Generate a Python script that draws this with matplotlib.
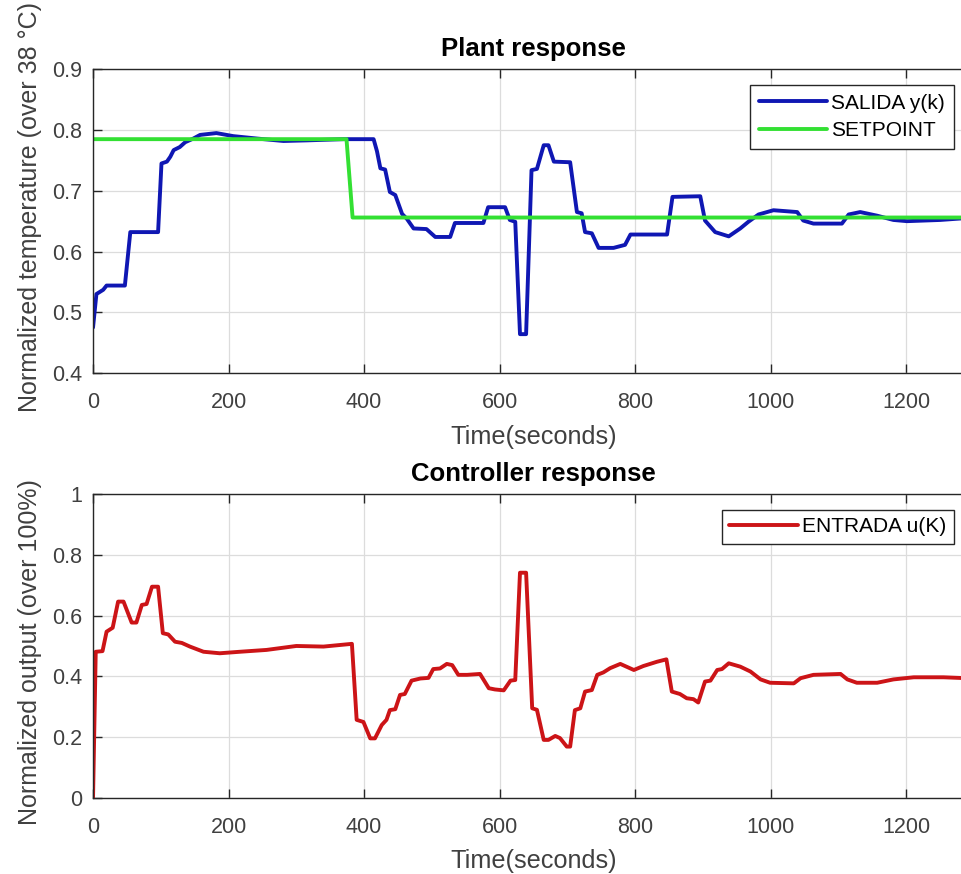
import matplotlib
matplotlib.use("Agg")
import matplotlib.pyplot as plt

# plant output y(k)
salida_t = [0, 5, 15, 20, 47, 55, 96, 101, 109, 114, 119, 128, 136, 148, 158, 182, 207, 242,
            281, 315, 370, 414, 419, 424, 431, 438, 446, 456, 463, 473, 492, 505, 527, 534,
            576, 583, 608, 615, 623, 630, 639, 647, 655, 665, 672, 680, 704, 714, 721, 726,
            736, 746, 768, 785, 793, 847, 855, 896, 903, 918, 938, 955, 967, 982, 1004, 1039,
            1048, 1063, 1105, 1115, 1132, 1157, 1181, 1201, 1250, 1300]
salida_y = [0.475, 0.53, 0.537, 0.544, 0.544, 0.632, 0.632, 0.745, 0.748, 0.756, 0.767, 0.772,
            0.78, 0.786, 0.792, 0.795, 0.79, 0.786, 0.782, 0.783, 0.785, 0.785, 0.765, 0.737,
            0.735, 0.698, 0.693, 0.662, 0.654, 0.638, 0.637, 0.624, 0.624, 0.647, 0.647, 0.673,
            0.673, 0.652, 0.649, 0.464, 0.464, 0.734, 0.736, 0.775, 0.775, 0.748, 0.747, 0.665,
            0.663, 0.632, 0.63, 0.606, 0.606, 0.611, 0.628, 0.628, 0.69, 0.691, 0.651, 0.632,
            0.625, 0.638, 0.649, 0.661, 0.668, 0.665, 0.651, 0.646, 0.646, 0.661, 0.665, 0.659,
            0.652, 0.65, 0.652, 0.656]

# setpoint
setpoint_t = [0, 374, 383, 1300]
setpoint_y = [0.785, 0.785, 0.656, 0.656]

# controller output u(k)
entrada_t = [0, 4, 14, 20, 29, 37, 45, 57, 64, 72, 79, 87, 96, 103, 111, 121, 131, 143, 163,
             187, 217, 256, 300, 340, 382, 389, 399, 409, 416, 426, 433, 438, 446, 453, 460,
             470, 483, 495, 502, 512, 522, 530, 539, 552, 571, 584, 593, 606, 616, 623, 630,
             639, 648, 655, 665, 672, 682, 689, 699, 704, 711, 719, 726, 736, 744, 753, 763,
             778, 798, 812, 832, 846, 854, 866, 876, 886, 893, 903, 911, 921, 928, 938, 955,
             970, 985, 999, 1034, 1044, 1063, 1103, 1113, 1127, 1157, 1181, 1211, 1255, 1300]
entrada_y = [0.0, 0.481, 0.483, 0.547, 0.56, 0.646, 0.646, 0.577, 0.577, 0.635, 0.638, 0.695,
             0.695, 0.542, 0.538, 0.514, 0.51, 0.498, 0.481, 0.476, 0.481, 0.487, 0.5, 0.498,
             0.507, 0.257, 0.25, 0.196, 0.196, 0.24, 0.257, 0.289, 0.292, 0.339, 0.342, 0.386,
             0.393, 0.395, 0.424, 0.426, 0.441, 0.437, 0.405, 0.405, 0.408, 0.361, 0.357, 0.354,
             0.386, 0.388, 0.741, 0.741, 0.295, 0.29, 0.191, 0.191, 0.204, 0.197, 0.169, 0.169,
             0.289, 0.295, 0.35, 0.355, 0.405, 0.413, 0.427, 0.441, 0.421, 0.434, 0.448, 0.456,
             0.35, 0.342, 0.328, 0.325, 0.314, 0.383, 0.386, 0.421, 0.424, 0.443, 0.432, 0.416,
             0.39, 0.379, 0.377, 0.394, 0.405, 0.408, 0.39, 0.379, 0.379, 0.39, 0.397, 0.397,
             0.393]

x_ticks = [0, 200, 400, 600, 800, 1000, 1200]
top_yticks = [0.4, 0.5, 0.6, 0.7, 0.8, 0.9]
bot_yticks = [0, 0.2, 0.4, 0.6, 0.8, 1]
bot_ylabels = ["0", "0.2", "0.4", "0.6", "0.8", "1"]

plt.rcParams['font.family'] = ['Liberation Sans', 'DejaVu Sans']

AX_COL = "#262626"
TXT_COL = "#404040"
LINE_KW = dict(linewidth=2.8, solid_joinstyle="round", solid_capstyle="round")


# matlab-ish look for one axes
def style_axes(ax, yticks):
    ax.set_xlim(0, 1300)
    ax.set_xticks(x_ticks)
    ax.set_yticks(yticks)
    ax.grid(True, color="#dcdcdc", linewidth=0.9)
    ax.set_axisbelow(True)
    for s in ax.spines.values():
        s.set_color(AX_COL)
        s.set_linewidth(1.0)
    ax.tick_params(direction="in", length=6.5, width=1.0, color=AX_COL,
                   labelcolor=TXT_COL, labelsize=15.5, top=True, right=True)
    ax.tick_params(axis="y", pad=8)


# legend box like the matlab one
def add_legend(ax, fig, top_px, spacing, bpad):
    leg = ax.legend(loc="upper right", bbox_to_anchor=(954 / 961, 1 - top_px / 874),
                    bbox_transform=fig.transFigure, borderaxespad=0, fontsize=15,
                    fancybox=False, framealpha=1, edgecolor=AX_COL, handlelength=3.3,
                    handletextpad=0.2, borderpad=bpad, labelspacing=spacing)
    leg.get_frame().set_linewidth(1.0)
    return leg


fig = plt.figure(figsize=(9.61, 8.74), dpi=100)
ax1 = fig.add_axes([0.0968, 0.5732, 0.9168, 0.3475])
ax2 = fig.add_axes([0.0968, 0.0870, 0.9168, 0.3478])

# plant response
ax1.plot(salida_t, salida_y, color="#0f17b3", label="SALIDA y(k)", **LINE_KW)
ax1.plot(setpoint_t, setpoint_y, color="#33e033", label="SETPOINT", **LINE_KW)
style_axes(ax1, top_yticks)
ax1.tick_params(axis="x", pad=14)
ax1.set_ylim(0.4, 0.9)
ax1.set_title("Plant response", fontsize=18.5, fontweight="bold", color="black", y=1.044, pad=0)
ax1.set_xlabel("Time(seconds)", fontsize=18.2, color=TXT_COL)
ax1.set_ylabel("Normalized temperature (over 38 °C)", fontsize=18, color=TXT_COL)
ax1.xaxis.set_label_coords(0.5, -0.172)
ax1.yaxis.set_label_coords(-0.058, 0.547)
add_legend(ax1, fig, 85, 0.42, 0.42)

# controller response
ax2.plot(entrada_t, entrada_y, color="#cc1417", label="ENTRADA u(K)", **LINE_KW)
style_axes(ax2, bot_yticks)
ax2.tick_params(axis="x", pad=13.5)
ax2.set_yticklabels(bot_ylabels)
ax2.set_ylim(0, 1)
ax2.set_title("Controller response", fontsize=18.5, fontweight="bold", color="black", y=1.042, pad=0)
ax2.set_xlabel("Time(seconds)", fontsize=18.2, color=TXT_COL)
ax2.set_ylabel("Normalized output (over 100%)", fontsize=18, color=TXT_COL)
ax2.xaxis.set_label_coords(0.5, -0.168)
ax2.yaxis.set_label_coords(-0.058, 0.48)
add_legend(ax2, fig, 510, 0.4, 0.36)

fig.savefig("out.png", dpi=100, facecolor="white")
